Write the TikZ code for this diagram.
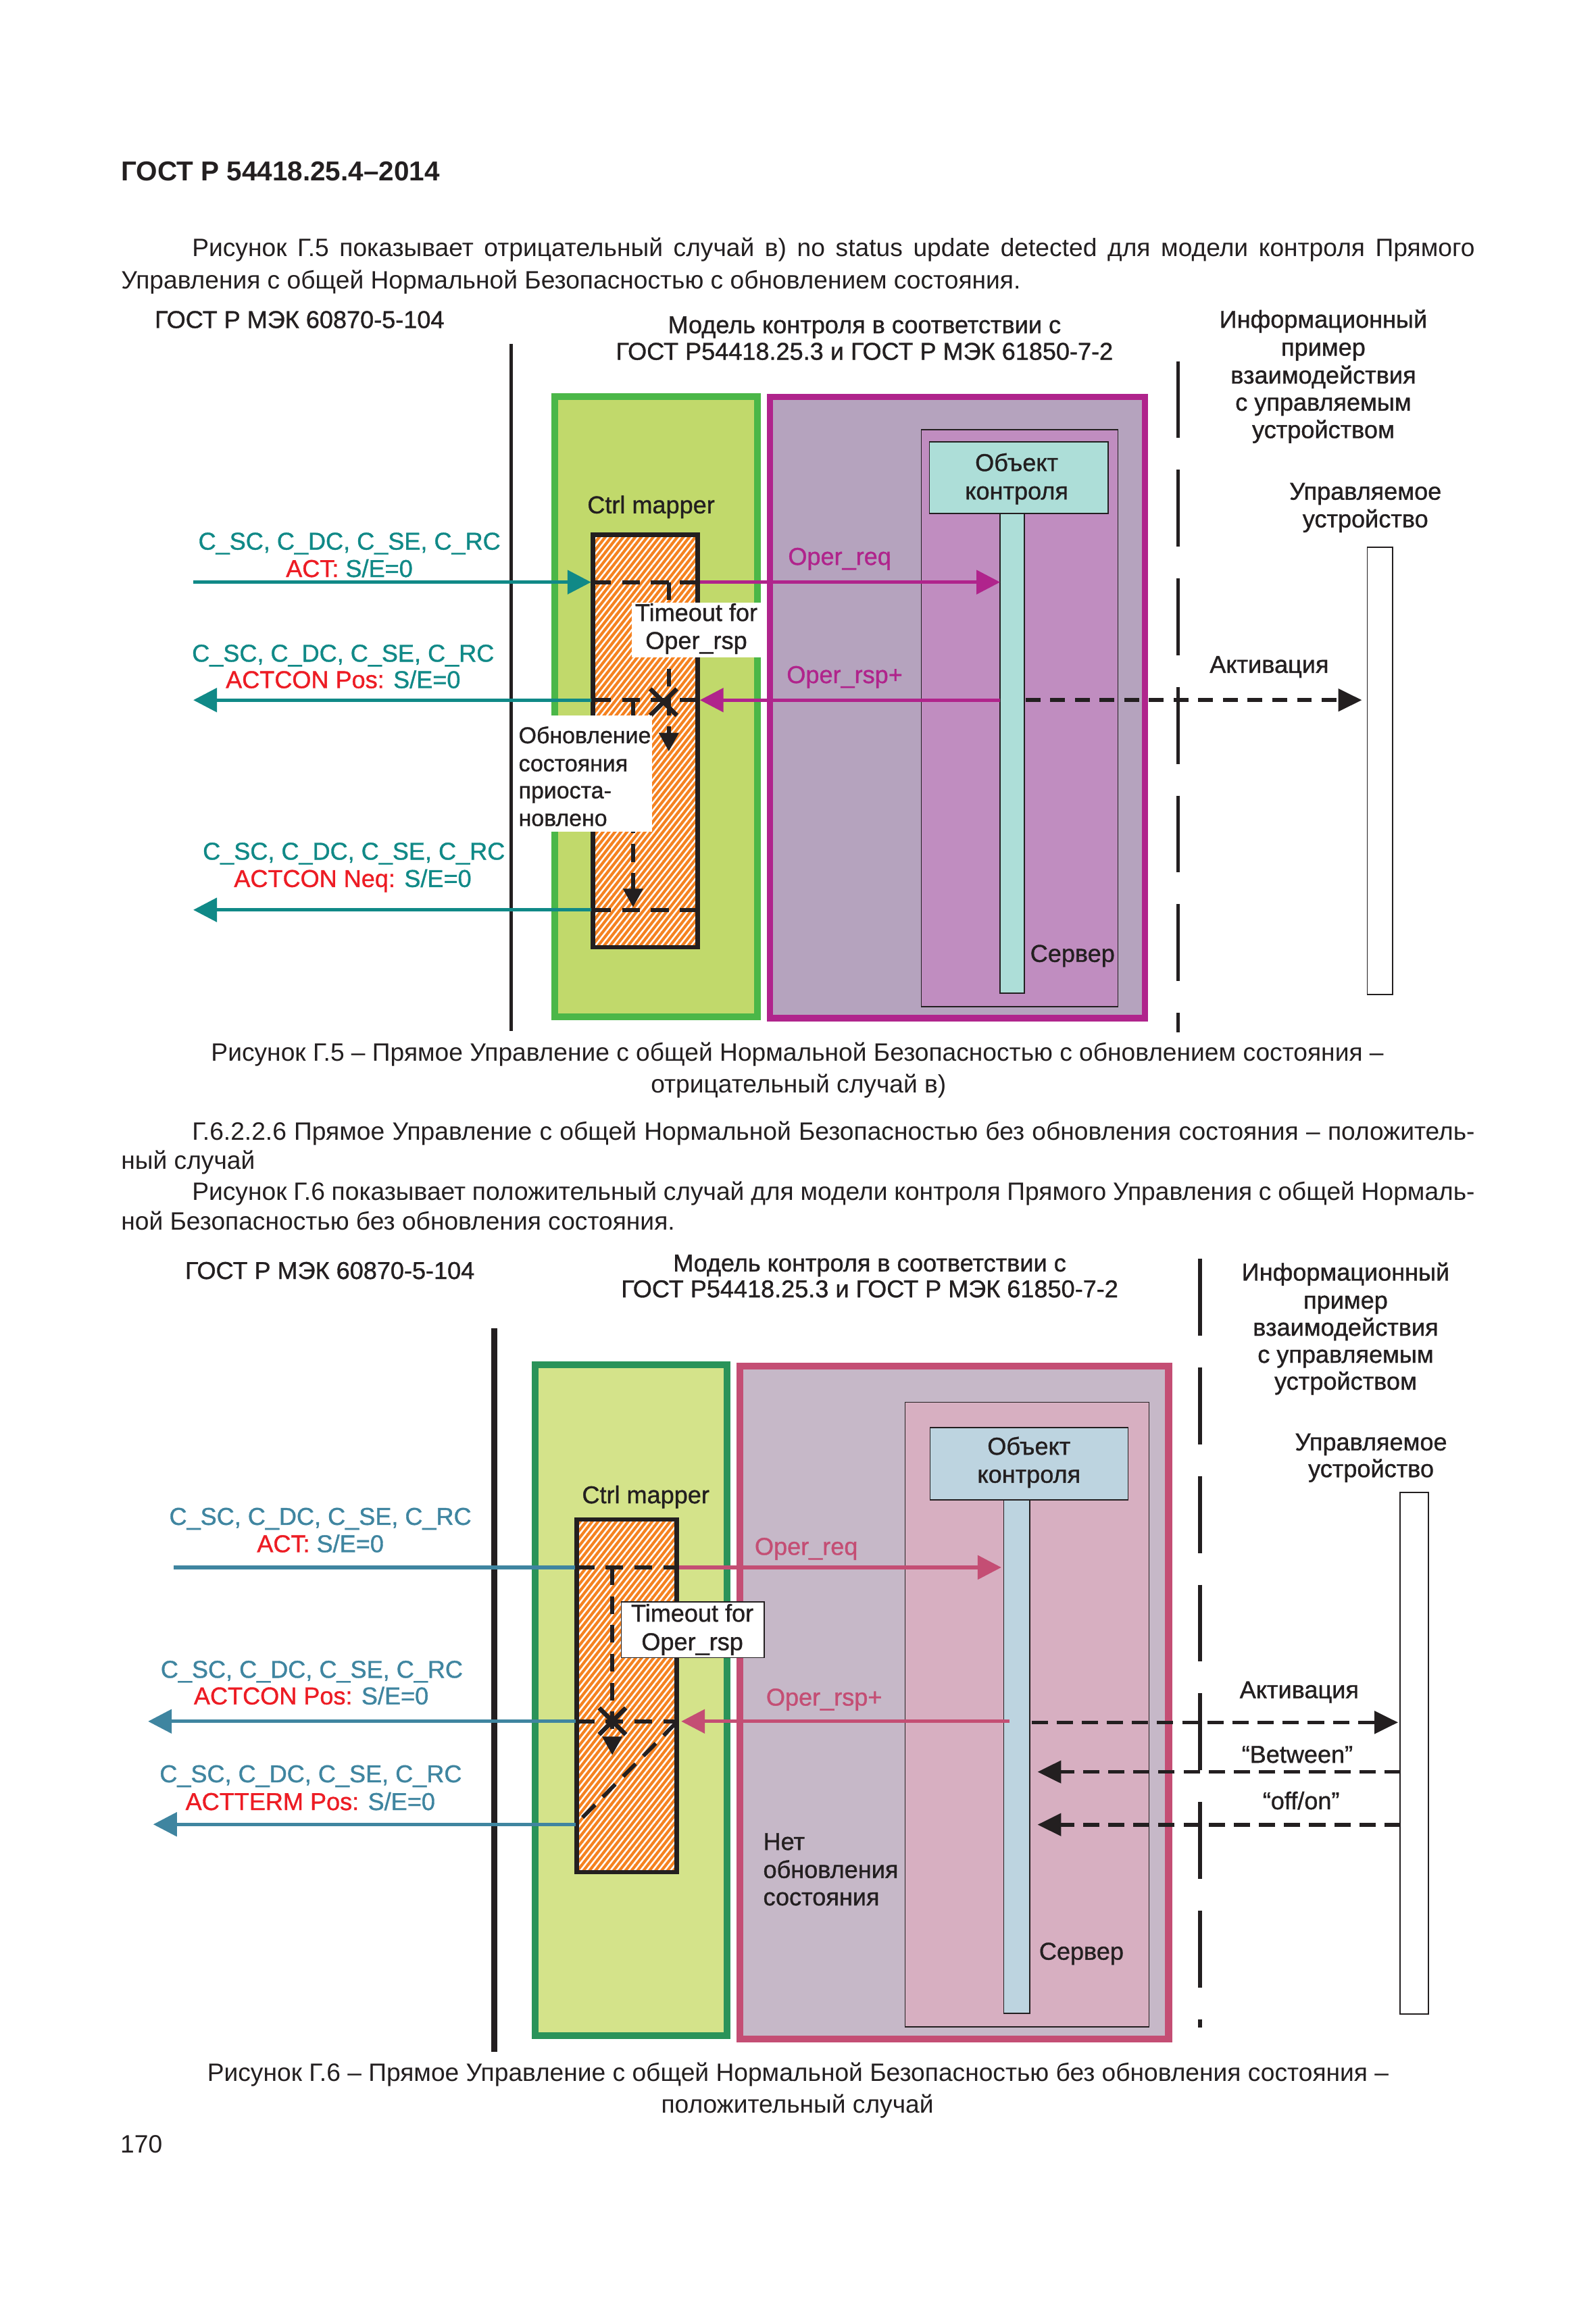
\documentclass[tikz,border=0pt]{standalone}
\usepackage{fontspec}
\setmainfont{Liberation Sans}
\usetikzlibrary{arrows.meta,patterns.meta,shapes.misc}
\newcommand\mybody{\fontsize{17pt}{21pt}\selectfont}
\newcommand\mylab{\fontsize{16.5pt}{19pt}\selectfont\addfontfeatures{FakeBold=1}}
\newcommand\mysmall{\fontsize{15.5pt}{18pt}\selectfont\addfontfeatures{FakeBold=1}}
\newcommand\myhead{\fontsize{18.5pt}{22pt}\selectfont\bfseries}
\definecolor{ink}{RGB}{35,31,32}
\definecolor{tealA}{RGB}{16,137,135}
\definecolor{redA}{RGB}{237,28,36}
\definecolor{magA}{RGB}{176,36,140}
\definecolor{grnBorderA}{RGB}{75,183,72}
\definecolor{grnFillA}{RGB}{193,217,107}
\definecolor{purFillA}{RGB}{181,163,190}
\definecolor{srvFillA}{RGB}{192,141,192}
\definecolor{objFillA}{RGB}{173,222,216}
\definecolor{orangeA}{RGB}{245,130,32}
\definecolor{blueB}{RGB}{63,133,160}
\definecolor{pinkB}{RGB}{196,78,116}
\definecolor{grnBorderB}{RGB}{42,147,89}
\definecolor{grnFillB}{RGB}{212,227,138}
\definecolor{lavFillB}{RGB}{198,184,200}
\definecolor{srvFillB}{RGB}{215,175,193}
\definecolor{objFillB}{RGB}{189,212,224}
\tikzset{
  lab/.style={inner sep=0pt, outer sep=0pt, anchor=base, font=\mylab, text=ink},
  labl/.style={lab, anchor=base west},
  body/.style={inner sep=0pt, outer sep=0pt, anchor=base west, font=\mybody, text=ink},
  cbody/.style={inner sep=0pt, outer sep=0pt, anchor=base, font=\mybody, text=ink},
  box/.style={inner sep=0pt, outer sep=0pt, anchor=north west, rectangle},
  thinbox/.style={box, draw=ink, line width=0.8pt},
  hatchbox/.style={box, preaction={fill=orangeA},
     pattern={Lines[angle=52,distance=3.2pt,line width=1.15pt]}, pattern color=white,
     draw=ink, line width=3pt},
  arr/.style={line width=2.4pt, -{Triangle[length=16pt,width=16pt]}},
  plain/.style={line width=2.4pt},
  dsh/.style={draw=ink, line width=2.6pt, dash pattern=on 12pt off 7.5pt},
  darr/.style={dsh, -{Triangle[length=16pt,width=15pt]}},
  varr/.style={dsh, -{Triangle[length=12.5pt,width=13pt]}},
  lifedash/.style={draw=ink, line width=2.5pt, dash pattern=on 52pt off 21.5pt},
  xmark/.style={cross out, draw=ink, line width=3pt, inner sep=0pt, minimum width=15pt, minimum height=15pt},
}
\begin{document}
\begin{tikzpicture}[x=1pt,y=-1pt]
\useasboundingbox (0,0) rectangle (1080,1566.1);
\fill[white] (0,0) rectangle (1080,1566.1);

% ---------------- header and first paragraph
\node[body, font=\myhead] (hdr) at (82,122.5) {ГОСТ Р 54418.25.4–2014};
\node[body] (p1a) at (130,173.5) {\makebox[868pt][s]{Рисунок Г.5 показывает отрицательный случай в) no status update detected для модели контроля Прямого}};
\node[body] (p1b) at (82,195.3) {Управления с общей Нормальной Безопасностью с обновлением состояния.};

% ================= FIGURE 1 =================
\node[box, fill=grnFillA, draw=grnBorderA, line width=4.5pt, minimum width=137.5pt, minimum height=420pt] (grn1) at (375.25,268.25) {};
\node[box, fill=purFillA, draw=magA, line width=4.5pt, minimum width=253.8pt, minimum height=420.4pt] (pur1) at (521,268.6) {};
\node[thinbox, fill=srvFillA, minimum width=133pt, minimum height=390.5pt] (srvb1) at (623.5,290.7) {};
\node[thinbox, fill=objFillA, minimum width=121pt, minimum height=48.5pt] (objb1) at (629,298.9) {};
\node[thinbox, fill=objFillA, minimum width=16.4pt, minimum height=324.8pt] (life1) at (676.8,347.4) {};
\node[thinbox, fill=white, minimum width=17.1pt, minimum height=302.6pt] (dev1) at (925.3,370.3) {};
\node[hatchbox, minimum width=70.8pt, minimum height=279.2pt] (ora1) at (401.3,361.8) {};

\coordinate (sl1t) at (346,232.7); \coordinate (sl1b) at (346,697.7);
\draw[ink, line width=2.4pt] (sl1t) -- (sl1b);
\coordinate (dl1t) at (797.2,244.5); \coordinate (dl1b) at (797.2,698.5);
\draw[lifedash] (dl1t) -- (dl1b);

% messages
\coordinate (a1L) at (130.8,394); \coordinate (a1R) at (400,394);
\coordinate (o1a) at (401.5,394); \coordinate (o1b) at (472.5,394);
\coordinate (r1L) at (473.6,394); \coordinate (r1R) at (676.8,394);
\draw[arr, tealA] (a1L) -- (a1R);
\draw[dsh] (o1a) -- (o1b);
\draw[arr, magA] (r1L) -- (r1R);

\coordinate (a2R) at (400,473.8); \coordinate (a2L) at (130.8,473.8);
\coordinate (o2a) at (401.5,473.8); \coordinate (o2b) at (472.5,473.8);
\coordinate (r2R) at (676.8,473.8); \coordinate (r2L) at (473.6,473.8);
\coordinate (d1L) at (694,473.8); \coordinate (d1R) at (921.6,473.8);
\draw[arr, tealA] (a2R) -- (a2L);
\draw[dsh] (o2a) -- (o2b);
\draw[arr, magA] (r2R) -- (r2L);
\draw[darr, dash pattern=on 10pt off 6.7pt] (d1L) -- (d1R);

\coordinate (a3R) at (400,615.8); \coordinate (a3L) at (130.8,615.8);
\coordinate (o3a) at (401.5,615.8); \coordinate (o3b) at (472.5,615.8);
\draw[arr, tealA] (a3R) -- (a3L);
\draw[dsh] (o3a) -- (o3b);

\coordinate (v1t) at (452.6,394); \coordinate (v1b) at (452.6,508.5);
\draw[varr] (v1t) -- (v1b);
\coordinate (v2t) at (428.4,473.8); \coordinate (v2b) at (428.4,614);
\draw[varr] (v2t) -- (v2b);
\node[xmark] (x1) at (449,475.2) {};

\node[box, fill=white, minimum width=87.4pt, minimum height=37.2pt] (tbox1) at (427.5,407.8) {};
\node[box, fill=white, minimum width=92.7pt, minimum height=78.7pt] (ubox1) at (348.5,484.4) {};

% texts fig 1
\node[lab] (gost1) at (202.7,222) {ГОСТ Р МЭК 60870-5-104};
\node[lab] (mod1a) at (585,225.5) {Модель контроля в соответствии с};
\node[lab] (mod1b) at (585,243.5) {ГОСТ Р54418.25.3 и ГОСТ Р МЭК 61850-7-2};
\node[lab] (inf1a) at (895.5,221.8) {Информационный};
\node[lab] (inf1b) at (895.5,240.7) {пример};
\node[lab] (inf1c) at (895.5,259.6) {взаимодействия};
\node[lab] (inf1d) at (895.5,277.9) {с управляемым};
\node[lab] (inf1e) at (895.5,296.5) {устройством};
\node[lab] (upr1a) at (924,338.2) {Управляемое};
\node[lab] (upr1b) at (924,356.9) {устройство};
\node[lab] (ctrl1) at (440.6,347.4) {Ctrl mapper};
\node[lab] (obj1a) at (688,318.8) {Объект};
\node[lab] (obj1b) at (688,338) {контроля};
\node[lab, text=tealA] (l1a) at (236.5,372) {C\_SC, C\_DC, C\_SE, C\_RC};
\node[lab, text=tealA] (l1b) at (236.4,390.5) {{\color{redA}ACT:} S/E=0};
\node[lab, text=tealA] (l2a) at (232.2,447.8) {C\_SC, C\_DC, C\_SE, C\_RC};
\node[lab, text=tealA] (l2b) at (232.2,465.7) {{\color{redA}ACTCON Pos:} S/E=0};
\node[lab, text=tealA] (l3a) at (239.5,581.8) {C\_SC, C\_DC, C\_SE, C\_RC};
\node[lab, text=tealA] (l3b) at (238.7,600.3) {{\color{redA}ACTCON Neq:} S/E=0};
\node[lab, text=magA] (oq1) at (568.2,382.3) {Oper\_req};
\node[lab, text=magA] (os1) at (571.6,462.3) {Oper\_rsp+};
\node[lab] (to1a) at (471.2,420.3) {Timeout for};
\node[lab] (to1b) at (471.2,439.2) {Oper\_rsp};
\node[labl, font=\mysmall] (up1a) at (351,503) {Обновление};
\node[labl, font=\mysmall] (up1b) at (351,522) {состояния};
\node[labl, font=\mysmall] (up1c) at (351,540.3) {приоста-};
\node[labl, font=\mysmall] (up1d) at (351,559) {новлено};
\node[lab] (akt1) at (858.9,455.4) {Активация};
\node[lab] (srv1) at (725.8,651) {Сервер};

\node[cbody] (c1a) at (539.6,718) {Рисунок Г.5 – Прямое Управление с общей Нормальной Безопасностью с обновлением состояния –};
\node[cbody] (c1b) at (540.4,739.5) {отрицательный случай в)};

% ---------------- second paragraph
\node[body] (p2a) at (130,771.5) {\makebox[868pt][s]{Г.6.2.2.6 Прямое Управление с общей Нормальной Безопасностью без обновления состояния – положитель-}};
\node[body] (p2b) at (82,791.3) {ный случай};
\node[body] (p2c) at (130,812.5) {\makebox[868pt][s]{Рисунок Г.6 показывает положительный случай для модели контроля Прямого Управления с общей Нормаль-}};
\node[body] (p2d) at (82,832.4) {ной Безопасностью без обновления состояния.};

% ================= FIGURE 2 =================
\node[box, fill=grnFillB, draw=grnBorderB, line width=4.6pt, minimum width=129.9pt, minimum height=454.1pt] (grn2) at (362,923.7) {};
\node[box, fill=lavFillB, draw=pinkB, line width=4.6pt, minimum width=290pt, minimum height=455.2pt] (pnk2) at (500.8,924.6) {};
\node[thinbox, fill=srvFillB, minimum width=165.1pt, minimum height=422.8pt] (srvb2) at (612.5,949) {};
\node[thinbox, fill=objFillB, minimum width=134pt, minimum height=49pt] (objb2) at (629.4,966) {};
\node[thinbox, fill=objFillB, minimum width=17.6pt, minimum height=347.5pt] (life2) at (679.2,1015) {};
\node[thinbox, fill=white, minimum width=19.2pt, minimum height=352.8pt] (dev2) at (947.4,1010.2) {};
\node[hatchbox, minimum width=67.6pt, minimum height=238.6pt] (ora2) at (390.35,1028.45) {};

\coordinate (sl2t) at (334.6,899); \coordinate (sl2b) at (334.6,1388.8);
\draw[ink, line width=4pt] (sl2t) -- (sl2b);
\coordinate (dl2t) at (812,852); \coordinate (dl2b) at (812,1372);
\draw[lifedash] (dl2t) -- (dl2b);

\coordinate (b1L) at (117.7,1060.8); \coordinate (b1R) at (388.9,1060.8);
\coordinate (q1a) at (390.3,1060.8); \coordinate (q1b) at (458,1060.8);
\coordinate (p1L) at (459.4,1060.8); \coordinate (p1R) at (677.6,1060.8);
\draw[plain, blueB] (b1L) -- (b1R);
\draw[dsh] (q1a) -- (q1b);
\draw[arr, pinkB] (p1L) -- (p1R);

\coordinate (w1t) at (414.3,1060.8); \coordinate (w1b) at (414.3,1187.8);
\draw[varr] (w1t) -- (w1b);
\coordinate (q2a) at (390.3,1165); \coordinate (q2b) at (458,1165);
\draw[dsh] (q2a) -- (q2b);
\coordinate (dgA) at (457.5,1166); \coordinate (dgB) at (390.3,1234);
\draw[dsh] (dgA) -- (dgB);

\coordinate (b2R) at (389.5,1165); \coordinate (b2L) at (100.2,1165);
\coordinate (b3R) at (389.5,1234.7); \coordinate (b3L) at (103.7,1234.7);
\draw[arr, blueB] (b2R) -- (b2L);
\draw[arr, blueB] (b3R) -- (b3L);
\coordinate (p2R) at (683.3,1165); \coordinate (p2L) at (461,1165);
\draw[arr, pinkB] (p2R) -- (p2L);
\coordinate (e1L) at (698,1165.7); \coordinate (e1R) at (946.1,1165.7);
\draw[darr, dash pattern=on 11pt off 6pt] (e1L) -- (e1R);
\coordinate (e2R) at (947.9,1199.2); \coordinate (e2L) at (702.1,1199.2);
\draw[darr, dash pattern=on 11pt off 6pt] (e2R) -- (e2L);
\coordinate (e3R) at (947.9,1234.9); \coordinate (e3L) at (702.1,1234.9);
\draw[darr, dash pattern=on 11pt off 6pt] (e3R) -- (e3L);
\node[xmark] (x2) at (414.4,1164.9) {};

\node[thinbox, fill=white, minimum width=96.8pt, minimum height=37.7pt] (tbox2) at (420.4,1084.2) {};

% texts fig 2
\node[lab] (gost2) at (223.2,865.6) {ГОСТ Р МЭК 60870-5-104};
\node[lab] (mod2a) at (588.5,860.5) {Модель контроля в соответствии с};
\node[lab] (mod2b) at (588.5,878) {ГОСТ Р54418.25.3 и ГОСТ Р МЭК 61850-7-2};
\node[lab] (inf2a) at (910.6,866.7) {Информационный};
\node[lab] (inf2b) at (910.6,885.7) {пример};
\node[lab] (inf2c) at (910.6,904) {взаимодействия};
\node[lab] (inf2d) at (910.6,922.3) {с управляемым};
\node[lab] (inf2e) at (910.6,940.5) {устройством};
\node[lab] (upr2a) at (927.8,981.6) {Управляемое};
\node[lab] (upr2b) at (927.8,999.7) {устройство};
\node[lab] (obj2a) at (696.3,984.5) {Объект};
\node[lab] (obj2b) at (696.3,1003.5) {контроля};
\node[lab] (ctrl2) at (437,1017.4) {Ctrl mapper};
\node[lab, text=blueB] (m1a) at (216.8,1032) {C\_SC, C\_DC, C\_SE, C\_RC};
\node[lab, text=blueB] (m1b) at (216.8,1050.5) {{\color{redA}ACT:} S/E=0};
\node[lab, text=blueB] (m2a) at (211,1135.5) {C\_SC, C\_DC, C\_SE, C\_RC};
\node[lab, text=blueB] (m2b) at (210.6,1153.5) {{\color{redA}ACTCON Pos:} S/E=0};
\node[lab, text=blueB] (m3a) at (210.3,1206.2) {C\_SC, C\_DC, C\_SE, C\_RC};
\node[lab, text=blueB] (m3b) at (210,1225) {{\color{redA}ACTTERM Pos:} S/E=0};
\node[lab, text=pinkB] (oq2) at (545.6,1052.3) {Oper\_req};
\node[lab, text=pinkB] (os2) at (557.7,1154.3) {Oper\_rsp+};
\node[lab] (to2a) at (468.5,1097.5) {Timeout for};
\node[lab] (to2b) at (468.5,1116.8) {Oper\_rsp};
\node[lab] (akt2) at (879.2,1149.3) {Активация};
\node[lab] (btw2) at (877.9,1193) {“Between”};
\node[lab] (off2) at (880.5,1224.5) {“off/on”};
\node[labl] (net2a) at (516.5,1252) {Нет};
\node[labl] (net2b) at (516.5,1271) {обновления};
\node[labl] (net2c) at (516.5,1289.5) {состояния};
\node[lab] (srv2) at (731.8,1326.3) {Сервер};

\node[cbody] (c2a) at (540,1408.5) {Рисунок Г.6 – Прямое Управление с общей Нормальной Безопасностью без обновления состояния –};
\node[cbody] (c2b) at (539.6,1430) {положительный случай};
\node[body] (pg) at (81.5,1457) {170};
\end{tikzpicture}
\end{document}
